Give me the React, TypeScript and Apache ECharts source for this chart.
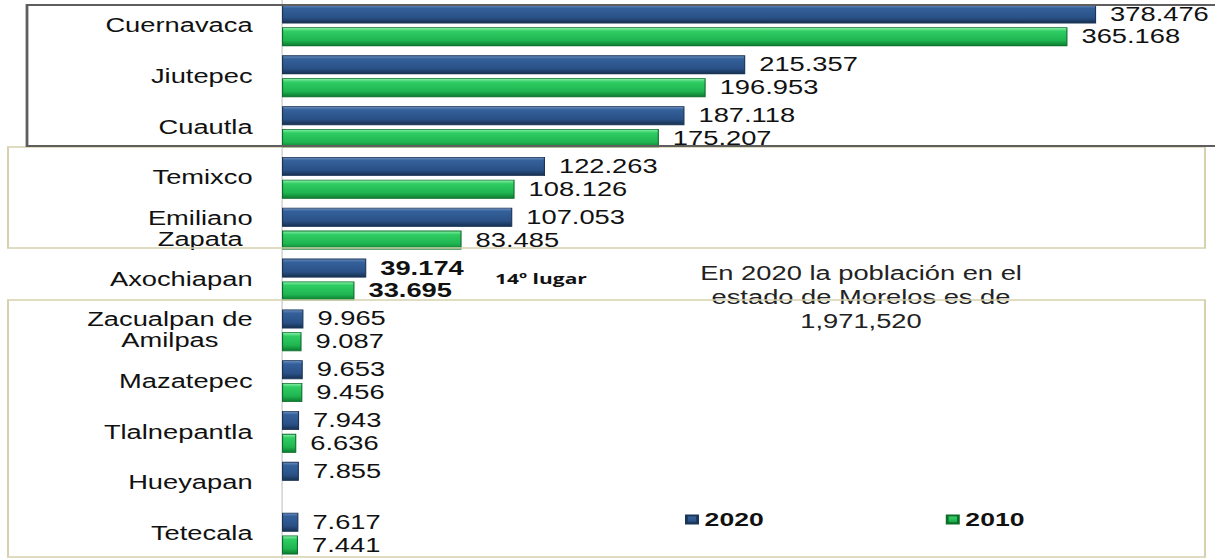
import React, { useEffect, useRef } from "react";
import * as echarts from "echarts";

const categories = [
  "Cuernavaca",
  "Jiutepec",
  "Cuautla",
  "Temixco",
  "Emiliano\nZapata",
  "Axochiapan",
  "Zacualpan de\nAmilpas",
  "Mazatepec",
  "Tlalnepantla",
  "Hueyapan",
  "Tetecala",
];
const values2020 = [378.476, 215.357, 187.118, 122.263, 107.053, 39.174, 9.965, 9.653, 7.943, 7.855, 7.617];
const values2010 = [365.168, 196.953, 175.207, 108.126, 83.485, 33.695, 9.087, 9.456, 6.636, null, 7.441];
const seriesNames = ["2020", "2010"];
const highlighted = "Axochiapan";
const rankNote = "14º lugar";
const totalNote = "En 2020 la población en el\nestado de Morelos es de\n1,971,520";

const S = 1.4; // horizontal stretch of the original picture
const W = 1215 / S;
const H = 559;
const FONT = "'Liberation Sans', Arial, sans-serif";

export default function App() {
  const ref = useRef<HTMLDivElement>(null);
  useEffect(() => {
    if (!ref.current) return;
    const chart = echarts.init(ref.current, null, { renderer: "svg" });
    const blue = new echarts.graphic.LinearGradient(0, 0, 0, 1, [
      { offset: 0, color: "#6b8fc0" },
      { offset: 0.18, color: "#34609a" },
      { offset: 0.7, color: "#2a5187" },
      { offset: 1, color: "#16304f" },
    ]);
    const green = new echarts.graphic.LinearGradient(0, 0, 0, 1, [
      { offset: 0, color: "#8af0aa" },
      { offset: 0.2, color: "#2fcc63" },
      { offset: 0.7, color: "#1fb551" },
      { offset: 1, color: "#0c7a2e" },
    ]);
    const mk = (vals: (number | null)[]) =>
      vals.map((v, i) =>
        categories[i] === highlighted && v != null
          ? { value: v, label: { fontWeight: "bold" } }
          : v
      );
    const labelCommon = {
      show: true,
      position: "right",
      distance: 10,
      fontSize: 19.5,
      fontFamily: FONT,
      color: "#111",
      formatter: (p: any) => (p.value == null ? "" : Number(p.value).toFixed(3)),
    };
    const left = 282 / S;
    const xMax = 420;
    const plotW = xMax * (2.151 / S);
    chart.setOption({
      animation: false,
      backgroundColor: "#ffffff",
      grid: { left, top: 0, bottom: 0, width: plotW, containLabel: false },
      xAxis: { type: "value", min: 0, max: xMax, show: false, splitLine: { show: false } },
      yAxis: {
        type: "category",
        inverse: true,
        data: categories,
        axisLine: { show: true, lineStyle: { color: "#cfcfcf", width: 1 } },
        axisTick: { show: false },
        axisLabel: {
          margin: 21,
          color: "#111",
          fontSize: 19.5,
          fontFamily: FONT,
          formatter: (v: string) => v.split("\n").map((l) => `{c|${l}}`).join("\n"),
          rich: { c: { align: "center", fontSize: 19.5, lineHeight: 21, fontFamily: FONT, color: "#111" } },
        },
      },
      legend: {
        data: seriesNames,
        left: 685 / S,
        top: 510,
        padding: 0,
        itemWidth: 8,
        itemHeight: 8,
        itemGap: 130,
        icon: "rect",
        textStyle: { fontSize: 19, fontWeight: "bold", fontFamily: FONT, color: "#111", padding: [0, 0, 0, 0] },
      },
      series: [
        {
          name: seriesNames[0],
          type: "bar",
          data: mk(values2020),
          barWidth: 19,
          barGap: "20%",
          itemStyle: { color: blue, borderColor: "#1b3557", borderWidth: 0.8 },
          label: labelCommon,
        },
        {
          name: seriesNames[1],
          type: "bar",
          data: mk(values2010),
          barWidth: 19,
          barGap: "20%",
          itemStyle: { color: green, borderColor: "#0d6e2a", borderWidth: 0.8 },
          label: labelCommon,
        },
      ],
      graphic: [
        {
          type: "text",
          x: 495 / S,
          y: 278,
          z: 50,
          style: {
            text: rankNote,
            font: "bold 15px 'Open Sans', sans-serif",
            fill: "#111",
            textAlign: "left",
            textVerticalAlign: "middle",
          },
        },
        {
          type: "text",
          x: 861 / S,
          y: 297,
          z: 50,
          style: {
            text: totalNote,
            font: `19.5px ${FONT}`,
            lineHeight: 24,
            fill: "#222",
            textAlign: "center",
            textVerticalAlign: "middle",
          },
        },
        {
          type: "rect",
          z: 100,
          shape: { x: 8 / S, y: 147, width: (1205 - 8) / S, height: 101 },
          style: { fill: "none", stroke: "#d6d1ae", lineWidth: 1.5 },
        },
        {
          type: "rect",
          z: 100,
          shape: { x: 8 / S, y: 300, width: (1205 - 8) / S, height: 257 },
          style: { fill: "none", stroke: "#d6d1ae", lineWidth: 1.5 },
        },
        {
          type: "rect",
          z: 110,
          shape: { x: 27 / S, y: 5, width: (1240 - 27) / S, height: 141 },
          style: { fill: "none", stroke: "#5e5e5e", lineWidth: 2 },
        },
      ],
    });
    return () => chart.dispose();
  }, []);
  return (
    <div
      ref={ref}
      style={{
        position: "absolute",
        left: 0,
        top: 0,
        width: W,
        height: H,
        transform: `scaleX(${S})`,
        transformOrigin: "0 0",
      }}
    />
  );
}
